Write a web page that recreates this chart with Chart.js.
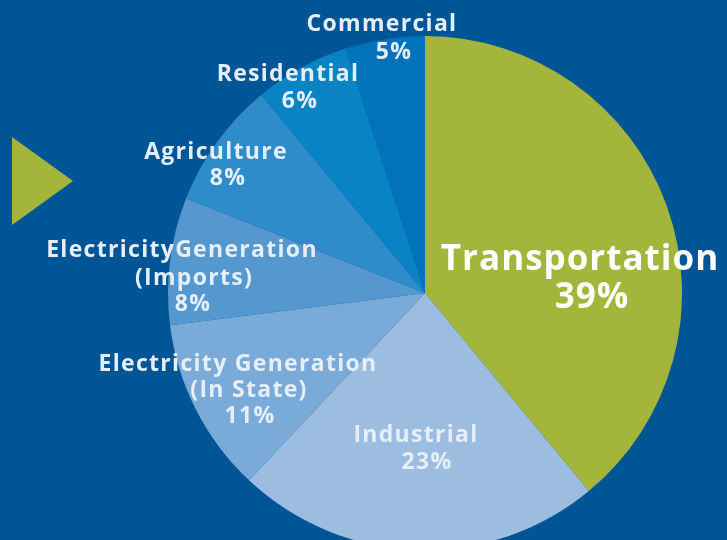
<!DOCTYPE html>
<html><head><meta charset="utf-8">
<script src="https://cdn.jsdelivr.net/npm/chart.js@4"></script>
<style>
html,body{margin:0;padding:0;background:#005596;overflow:hidden;width:727px;height:540px}
#wrap{position:absolute;left:0;top:0;width:727px;height:560px}
#tri{position:absolute;left:12px;top:137px;width:0;height:0;border-left:61px solid #a3b53b;border-top:44px solid transparent;border-bottom:44px solid transparent}
</style></head><body>
<div id="tri"></div>
<div id="wrap"><canvas id="c" width="727" height="560"></canvas></div>
<script>
const categories = ["Transportation","Industrial","Electricity Generation (In State)","ElectricityGeneration (Imports)","Agriculture","Residential","Commercial"];
const shares = [39,23,11,8,8,6,5];
const sliceColors = ["#a3b53b","#9dbde0","#7aaad8","#5597cf","#2f8ccb","#0a83c5","#0073bb"];
const labelLines = [
  ["Transportation","39%"],
  ["Industrial","23%"],
  ["Electricity Generation","(In State)","11%"],
  ["ElectricityGeneration","(Imports)","8%"],
  ["Agriculture","8%"],
  ["Residential","6%"],
  ["Commercial","5%"]
];
// label layout (pixel positions of line centres)
const labelLayout = [
  {x:[580,592], y:[260,298], size:35, color:"#ffffff"},
  {x:[416,427], y:[435,462], size:23, color:"#e6eef7"},
  {x:[238,249,250], y:[364,390,416], size:23, color:"#e6eef7"},
  {x:[182,194,193], y:[250,278,304], size:23, color:"#e6eef7"},
  {x:[216,228], y:[152,178], size:23, color:"#e6eef7"},
  {x:[288,300], y:[74,101], size:23, color:"#e6eef7"},
  {x:[382,394], y:[24,52], size:23, color:"#e6eef7"}
];
const labelPlugin = {
  id:'labels',
  afterDraw(chart){
    const ctx = chart.ctx;
    ctx.save();
    ctx.textAlign='center';
    ctx.textBaseline='middle';
    labelLines.forEach((lines,i)=>{
      const L = labelLayout[i];
      ctx.font = `700 ${L.size}px "Open Sans"`;
      ctx.letterSpacing = L.size>30 ? '1px' : '1.3px';
      ctx.fillStyle = L.color;
      lines.forEach((t,j)=>ctx.fillText(t, L.x[j], L.y[j]));
    });
    ctx.restore();
  }
};
new Chart(document.getElementById('c'),{
  type:'pie',
  data:{labels:categories,datasets:[{data:shares,backgroundColor:sliceColors,borderWidth:0}]},
  options:{
    responsive:false,animation:false,
    layout:{padding:{left:168,right:45,top:36,bottom:10}},
    plugins:{legend:{display:false},tooltip:{enabled:false}}
  },
  plugins:[labelPlugin]
});
</script>
</body></html>
